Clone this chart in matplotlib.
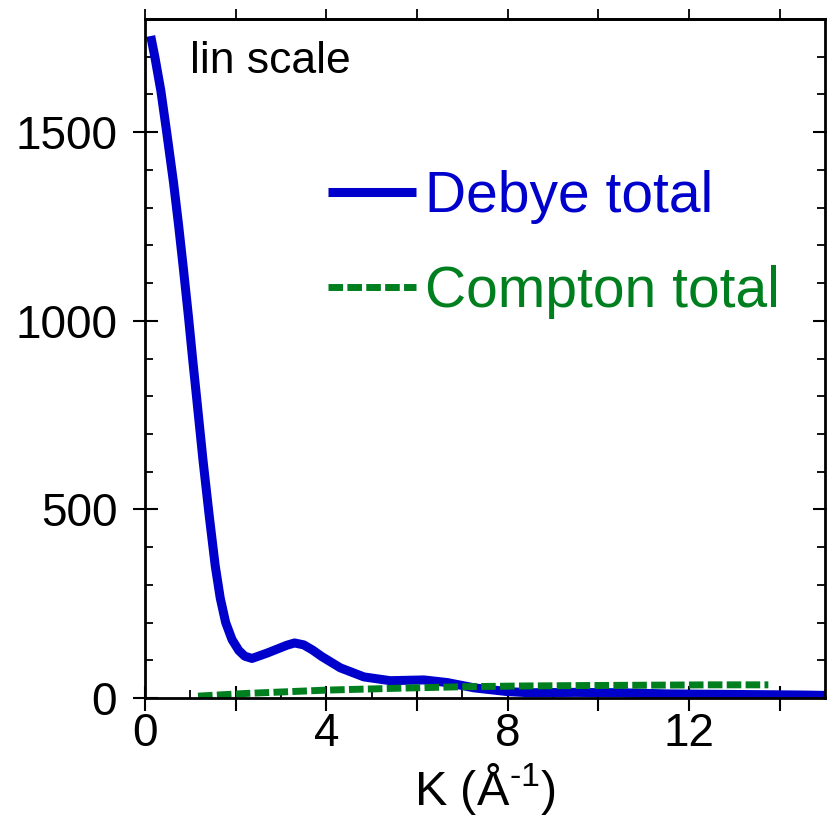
import matplotlib
matplotlib.use('Agg')
import matplotlib.pyplot as plt
from matplotlib.ticker import MultipleLocator, FuncFormatter

# ---- data ----
K_debye = [0.126, 0.22, 0.35, 0.48, 0.63, 0.74, 0.85, 0.96, 1.05, 1.14, 1.28,
           1.42, 1.55, 1.66, 1.78, 1.92, 2.07, 2.2, 2.36, 2.69, 3.13, 3.3,
           3.5, 3.7, 3.9, 4.31, 4.83, 5.41, 6.15, 6.67, 7.26, 8.0, 8.5,
           9.5, 10.5, 11.5, 12.5, 13.5, 14.5, 15.0]
I_debye = [1755, 1698, 1610, 1499, 1366, 1255, 1135, 1010, 900, 795, 630,
           480, 350, 265, 200, 155, 126, 111, 105, 119, 140, 146,
           141, 127, 110, 80, 56, 46, 48, 41, 27, 17, 14,
           15, 14, 11, 10, 9, 8, 7]

K_compton = [1.17, 2.2, 4.0, 5.57, 7.03, 8.35, 9.5, 11.0, 12.5, 13.75]
I_compton = [5, 12, 21, 26, 30, 32, 33, 34, 35, 35]

series_labels = ['Debye total', 'Compton total']
x_labelled = [0, 4, 8, 12]

plt.rcParams['font.family'] = ['Liberation Sans', 'DejaVu Sans']
plt.rcParams['mathtext.fontset'] = 'custom'
plt.rcParams['mathtext.rm'] = 'Liberation Sans'
plt.rcParams['mathtext.it'] = 'Liberation Sans:italic'
plt.rcParams['mathtext.default'] = 'regular'

blue = '#0000cc'
green = '#007f1f'

fig = plt.figure(figsize=(8.28, 8.31), dpi=100)
ax = fig.add_axes([0.1751, 0.1600, 0.8213, 0.8171])

ax.plot(K_debye, I_debye, color=blue, lw=6.5, label=series_labels[0],
        solid_capstyle='butt', solid_joinstyle='round')
ax.plot(K_compton, I_compton, color=green, lw=5, dashes=(2.1, 0.62),
        label=series_labels[1])

ax.set_xlim(0, 15)
ax.set_ylim(0, 1800)

ax.xaxis.set_major_locator(MultipleLocator(2))
ax.xaxis.set_minor_locator(MultipleLocator(1))
ax.xaxis.set_major_formatter(FuncFormatter(
    lambda v, p: f'{v:.0f}' if int(round(v)) in x_labelled else ''))
ax.yaxis.set_major_locator(MultipleLocator(500))
ax.yaxis.set_minor_locator(MultipleLocator(100))

ax.tick_params(which='major', direction='inout', length=18, width=1.5,
               labelsize=33, top=False, right=True, colors='black')
ax.tick_params(axis='x', which='major', pad=1)
ax.tick_params(axis='y', which='major', pad=11)
ax.tick_params(which='minor', direction='in', length=6, width=1.3,
               top=False, right=True, color='black')

for sp in ax.spines.values():
    sp.set_linewidth(2)
    sp.set_color('black')

sec = ax.secondary_xaxis('top')
sec.xaxis.set_major_locator(MultipleLocator(2))
sec.tick_params(direction='out', length=7, width=1.3, labeltop=False)
sec.spines['top'].set_linewidth(2)

ax.text(0.066, 0.920, 'lin scale', transform=ax.transAxes, fontsize=32,
        va='baseline', ha='left')

leg = ax.legend(loc='upper left', bbox_to_anchor=(0.269, 0.778), frameon=False,
                fontsize=41, handlelength=1.55, handletextpad=0.15,
                labelcolor='linecolor', borderpad=0, borderaxespad=0,
                labelspacing=0.72)

ax.set_xlabel('K (Å$^{\\text{-1}}$)', fontsize=35, labelpad=4)

fig.canvas.draw()
for t, v in zip(ax.xaxis.get_major_ticks(), ax.xaxis.get_majorticklocs()):
    if int(round(v)) in x_labelled:
        t.tick1line.set_color('#777777')
        t.tick2line.set_color('#777777')
for t in ax.yaxis.get_major_ticks():
    t.tick1line.set_color('#777777')
    t.tick2line.set_color('#777777')

fig.savefig('out.png', dpi=100)
